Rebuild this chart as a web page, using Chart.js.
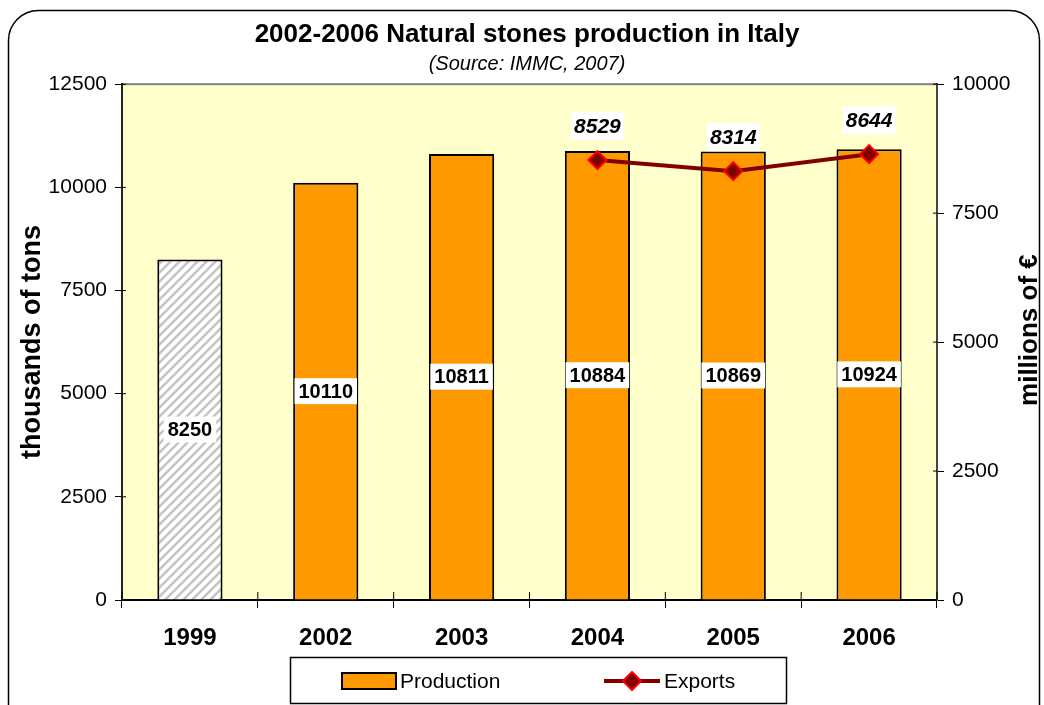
<!DOCTYPE html>
<html>
<head>
<meta charset="utf-8">
<script src="https://cdn.jsdelivr.net/npm/chart.js@4/dist/chart.umd.min.js"></script>
<style>
body { margin: 0; background: #fff; }
</style>
</head>
<body>
<canvas id="chart" width="1044" height="705"></canvas>
<script>
const years = ['1999', '2002', '2003', '2004', '2005', '2006'];
const production = [8250, 10110, 10811, 10884, 10869, 10924];
const exportsEur = [null, null, null, 8529, 8314, 8644];
const leftTicks = [0, 2500, 5000, 7500, 10000, 12500];
const rightTicks = [0, 2500, 5000, 7500, 10000];

const FONT = '"Liberation Sans", Arial, sans-serif';

// grey diagonal stripes for the 1999 bar
function hatch() {
    const c = document.createElement('canvas');
    c.width = 9; c.height = 9;
    const g = c.getContext('2d');
    g.fillStyle = '#fff';
    g.fillRect(0, 0, 9, 9);
    g.strokeStyle = '#c4c4c4';
    g.lineWidth = 2.5;
    g.beginPath();
    g.moveTo(-4.5, 4.5); g.lineTo(4.5, -4.5);
    g.moveTo(0, 9); g.lineTo(9, 0);
    g.moveTo(4.5, 13.5); g.lineTo(13.5, 4.5);
    g.stroke();
    return g.createPattern(c, 'repeat');
}

const barColors = years.map((y, i) => i === 0 ? hatch() : '#FF9900');

// frame, plot background, inner tick marks, labels, legend
const decor = {
    id: 'decor',
    beforeDraw(chart) {
        const ctx = chart.ctx, a = chart.chartArea;
        ctx.save();
        // outer rounded frame
        const x0 = 8.5, y0 = 10.5, x1 = 1039.5, y1 = 730, r = 30;
        ctx.beginPath();
        ctx.moveTo(x0 + r, y0);
        ctx.lineTo(x1 - r, y0);
        ctx.arcTo(x1, y0, x1, y0 + r, r);
        ctx.lineTo(x1, y1);
        ctx.lineTo(x0, y1);
        ctx.lineTo(x0, y0 + r);
        ctx.arcTo(x0, y0, x0 + r, y0, r);
        ctx.strokeStyle = '#000';
        ctx.lineWidth = 1.5;
        ctx.stroke();
        // plot area
        ctx.fillStyle = '#FFFFCC';
        ctx.fillRect(a.left, a.top, a.right - a.left, a.bottom - a.top);
        ctx.strokeStyle = '#808080';
        ctx.lineWidth = 2;
        ctx.strokeRect(a.left, a.top, a.right - a.left, a.bottom - a.top);
        ctx.restore();
    },
    afterDatasetsDraw(chart) {
        const ctx = chart.ctx, a = chart.chartArea;
        ctx.save();
        // ticks crossing into the plot
        ctx.strokeStyle = '#000';
        ctx.lineWidth = 1;
        ctx.beginPath();
        leftTicks.forEach(v => {
            const py = chart.scales.y.getPixelForValue(v);
            ctx.moveTo(a.left, py); ctx.lineTo(a.left + 4, py);
        });
        rightTicks.forEach(v => {
            const py = chart.scales.y1.getPixelForValue(v);
            ctx.moveTo(a.right - 4, py); ctx.lineTo(a.right, py);
        });
        const xs = chart.scales.x;
        for (let i = 0; i <= years.length; i++) {
            const px = xs.left + i * xs.width / years.length;
            ctx.moveTo(px, a.bottom - 8); ctx.lineTo(px, a.bottom);
        }
        ctx.stroke();

        ctx.textAlign = 'center';
        ctx.textBaseline = 'middle';
        // production labels in the middle of bars
        ctx.font = 'bold 20px ' + FONT;
        chart.getDatasetMeta(0).data.forEach((b, i) => {
            const t = String(production[i]);
            const ym = (b.y + b.base) / 2;
            const w = ctx.measureText(t).width + 8;
            ctx.fillStyle = '#fff';
            ctx.fillRect(b.x - w / 2, ym - 13, w, 26);
            ctx.fillStyle = '#000';
            ctx.fillText(t, b.x, ym + 1);
        });
        // export labels above points
        ctx.font = 'italic bold 21px ' + FONT;
        chart.getDatasetMeta(1).data.forEach((p, i) => {
            if (exportsEur[i] == null) return;
            const t = String(exportsEur[i]);
            const yl = p.y - 34;
            const w = ctx.measureText(t).width + 6;
            ctx.fillStyle = '#fff';
            ctx.fillRect(p.x - w / 2, yl - 14, w, 28);
            ctx.fillStyle = '#000';
            ctx.fillText(t, p.x, yl + 1);
        });
        ctx.restore();
    },
    afterDraw(chart) {
        const ctx = chart.ctx, a = chart.chartArea;
        ctx.save();
        // right axis title, reading bottom to top
        ctx.font = 'bold 26px ' + FONT;
        ctx.fillStyle = '#000';
        ctx.textAlign = 'center';
        ctx.textBaseline = 'middle';
        ctx.translate(1030, (a.top + a.bottom) / 2 - 12);
        ctx.rotate(-Math.PI / 2);
        ctx.fillText('millions of €', 0, 0);
        ctx.restore();

        // legend
        ctx.save();
        ctx.strokeStyle = '#000';
        ctx.lineWidth = 1.5;
        ctx.strokeRect(290.5, 657.5, 496, 46);
        ctx.fillStyle = '#FF9900';
        ctx.fillRect(342, 673, 54, 16);
        ctx.lineWidth = 2;
        ctx.strokeRect(342, 673, 54, 16);
        ctx.font = '21px ' + FONT;
        ctx.fillStyle = '#000';
        ctx.textBaseline = 'middle';
        ctx.fillText('Production', 400, 682);
        ctx.fillText('Exports', 664, 682);
        ctx.strokeStyle = '#800000';
        ctx.lineWidth = 4;
        ctx.beginPath();
        ctx.moveTo(604, 681); ctx.lineTo(660, 681);
        ctx.stroke();
        ctx.fillStyle = '#800000';
        ctx.strokeStyle = '#FF0000';
        ctx.lineWidth = 2;
        Chart.helpers.drawPoint(ctx, { pointStyle: 'rectRot', radius: 9, borderWidth: 2 }, 632, 681);
        ctx.restore();
    }
};

new Chart(document.getElementById('chart'), {
    type: 'bar',
    data: {
        labels: years,
        datasets: [{
            label: 'Production',
            data: production,
            backgroundColor: barColors,
            borderColor: '#000',
            borderWidth: 2,
            barPercentage: 0.48,
            categoryPercentage: 1,
            yAxisID: 'y',
            order: 2
        }, {
            type: 'line',
            label: 'Exports',
            data: exportsEur,
            borderColor: '#800000',
            borderWidth: 4,
            pointStyle: 'rectRot',
            pointRadius: 9,
            pointBackgroundColor: '#800000',
            pointBorderColor: '#FF0000',
            pointBorderWidth: 2,
            yAxisID: 'y1',
            order: 1
        }]
    },
    options: {
        responsive: false,
        animation: false,
        layout: { padding: { left: 10, right: 0, top: 0, bottom: 52 } },
        plugins: {
            legend: { display: false },
            tooltip: { enabled: false },
            title: {
                display: true,
                text: '2002-2006 Natural stones production in Italy',
                color: '#000',
                font: { family: FONT, size: 26, weight: 'bold' },
                padding: { top: 19, bottom: 2 }
            },
            subtitle: {
                display: true,
                text: '(Source: IMMC, 2007)',
                color: '#000',
                font: { family: FONT, size: 20, style: 'italic' },
                padding: { top: 0, bottom: 8 }
            }
        },
        scales: {
            x: {
                grid: { offset: true, drawOnChartArea: false, color: '#000', tickLength: 8 },
                border: { color: '#000', width: 2 },
                ticks: { color: '#000', padding: 16, font: { family: FONT, size: 24, weight: 'bold' } },
                afterFit: s => { s.height = 53; }
            },
            y: {
                position: 'left',
                min: 0,
                max: 12500,
                afterBuildTicks: s => { s.ticks = leftTicks.map(v => ({ value: v })); },
                grid: { drawOnChartArea: false, color: '#000', tickLength: 7 },
                border: { color: '#222', width: 2 },
                ticks: { color: '#000', padding: 8, font: { family: FONT, size: 21 }, callback: v => String(v) },
                title: {
                    display: true,
                    text: 'thousands of tons',
                    color: '#000',
                    font: { family: FONT, size: 27, weight: 'bold' },
                    padding: { top: 6, bottom: 0 }
                },
                afterFit: s => { s.width = 112; }
            },
            y1: {
                position: 'right',
                min: 0,
                max: 10000,
                afterBuildTicks: s => { s.ticks = rightTicks.map(v => ({ value: v })); },
                grid: { drawOnChartArea: false, color: '#000', tickLength: 7 },
                border: { color: '#444', width: 2 },
                ticks: { color: '#000', padding: 8, font: { family: FONT, size: 21 }, callback: v => String(v) },
                afterFit: s => { s.width = 107; }
            }
        }
    },
    plugins: [decor]
});
</script>
</body>
</html>
